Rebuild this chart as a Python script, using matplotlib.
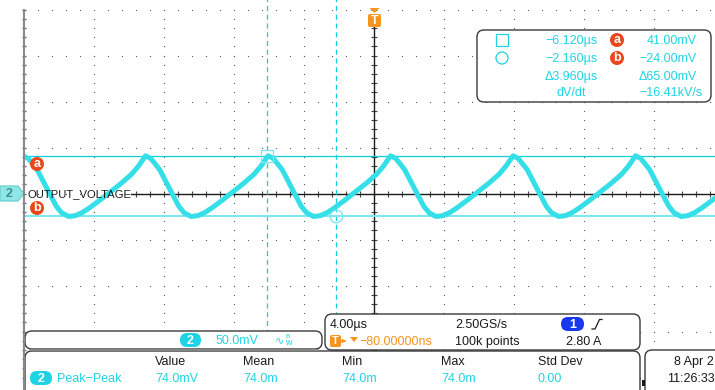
import numpy as np
import matplotlib.pyplot as plt
from matplotlib.patches import FancyBboxPatch, Rectangle, Circle, Polygon

W, H = 715, 390
plt.rcParams['font.family'] = ['Liberation Sans', 'DejaVu Sans']

# waveform: time (us) and channel 2 voltage (mV)
t_us = [-20.05, -19.75, -19.25, -18.65, -18.15, -17.85, -17.45, -17.05, -16.65, -16.25,
        -15.65, -15.05, -14.45, -13.85, -13.45, -13.20, -13.05,
        -12.75, -12.25, -11.65, -11.15, -10.85, -10.45, -10.05, -9.65, -9.25,
        -8.65, -8.05, -7.45, -6.85, -6.45, -6.20, -6.05,
        -5.75, -5.25, -4.65, -4.15, -3.85, -3.45, -3.05, -2.65, -2.25,
        -1.65, -1.05, -0.45, 0.15, 0.55, 0.80, 0.95,
        1.25, 1.75, 2.35, 2.85, 3.15, 3.55, 3.95, 4.35, 4.75,
        5.35, 5.95, 6.55, 7.15, 7.55, 7.80, 7.95,
        8.25, 8.75, 9.35, 9.85, 10.15, 10.55, 10.95, 11.35, 11.75,
        12.35, 12.95, 13.55, 14.15, 14.55, 14.80, 14.95,
        15.25, 15.75, 16.35, 16.85, 17.15, 17.55, 17.95, 18.35, 18.75,
        19.35, 19.95, 20.55]
v_mv = [41, 38, 26, 4, -14, -21, -25, -24, -20.5, -15.5,
        -7, 2, 11, 21, 30, 37, 41,
        38, 26, 4, -14, -21, -25, -24, -20.5, -15.5,
        -7, 2, 11, 21, 30, 37, 41,
        38, 26, 4, -14, -21, -25, -24, -20.5, -15.5,
        -7, 2, 11, 21, 30, 37, 41,
        38, 26, 4, -14, -21, -25, -24, -20.5, -15.5,
        -7, 2, 11, 21, 30, 37, 41,
        38, 26, 4, -14, -21, -25, -24, -20.5, -15.5,
        -7, 2, 11, 21, 30, 37, 41,
        38, 26, 4, -14, -21, -25, -24, -20.5, -15.5,
        -7, 2, 11]

cursor_t = [-6.120, -2.160]
cursor_v = [41.00, -24.00]

readout_time = ["\u22126.120\u00b5s", "\u22122.160\u00b5s", "\u03943.960\u00b5s"]
readout_volt = ["41.00mV", "\u221224.00mV", "\u039465.00mV"]
readout_slope = ["dV/dt", "\u221216.41kV/s"]

meas_header = ["Value", "Mean", "Min", "Max", "Std Dev"]
meas_values = ["74.0mV", "74.0m", "74.0m", "74.0m", "0.00"]
meas_x = [155, 243, 342, 441, 538]

CYAN = '#1fd3e4'
TRACE = '#34dfe8'
LIGHT = '#80e6ee'
ORANGE = '#f7941d'
RED = '#e8481c'
INK = '#1a1a1a'

fig = plt.figure(figsize=(W / 100, H / 100), dpi=100)
fig.patch.set_facecolor('white')

# scope screen: 10 x 8 divisions, 4 us/div, 50 mV/div
scope = fig.add_axes([24 / W, (H - 377.5) / H, 700 / W, 368 / H])
scope.set_xlim(-20, 20)
scope.set_ylim(-200, 200)
scope.axis('off')

major_t = np.arange(-20, 20.1, 4)
minor_t = np.arange(-20, 20.1, 0.8)
major_v = np.arange(-200, 200.1, 50)
minor_v = np.arange(-200, 200.1, 10)
for t in major_t:
    scope.plot(np.full_like(minor_v, t), minor_v, ls='none', marker='s', ms=0.8,
               color='#5a5a5a', mew=0)
for v in major_v:
    scope.plot(minor_t, np.full_like(minor_t, v), ls='none', marker='s', ms=0.8,
               color='#5a5a5a', mew=0)
scope.plot(np.full_like(minor_v, -20), minor_v, ls='none', marker='_', ms=3,
           color='#666', mew=1, clip_on=False)

# center ticks
scope.plot(np.zeros_like(minor_v), minor_v, ls='none', marker='_', ms=4.5,
           color='#444', mew=0.8)
scope.plot(minor_t[minor_t > -13.9], np.zeros_like(minor_t[minor_t > -13.9]),
           ls='none', marker='|', ms=4, color='#444', mew=0.8)

# trigger position line and channel baseline
scope.plot([0, 0], [-200, 181], color=INK, lw=1.0)
scope.plot([-13.9, 20], [0, 0], color=INK, lw=1.0)

# cursors
for t in cursor_t:
    scope.plot([t, t], [-200, 211], color='#12cfe0', lw=0.9, ls=(0, (4, 3)),
               clip_on=False)
scope.axhline(cursor_v[0], color='#12cfe0', lw=0.9)
scope.axhline(cursor_v[1], color=LIGHT, lw=1.5)

scope.plot(t_us, v_mv, color=TRACE, lw=3.6, solid_joinstyle='round',
           solid_capstyle='round')

scope.plot(cursor_t[0], cursor_v[0], marker='s', ms=8.5, mfc='none', mec=LIGHT,
           mew=1.0)
scope.plot(cursor_t[1], cursor_v[1], marker='o', ms=9, mfc='none', mec=LIGHT,
           mew=1.0)

# overlay in pixel coordinates for labels and panels
ov = fig.add_axes([0, 0, 1, 1])
ov.set_xlim(0, W)
ov.set_ylim(H, 0)
ov.axis('off')
ov.patch.set_alpha(0)

ov.plot([24, 24], [9.5, H], color='#8a8a8a', lw=1.5)

# channel marker and label
ov.add_patch(Polygon([(0, 186), (18, 186), (24, 193.5), (18, 201), (0, 201)],
                     closed=True, fc='#90e6e6', ec='#60cccc', lw=0.8))
ov.text(9, 194, "2", color='#3b8f8f', fontsize=9, fontweight='bold',
        ha='center', va='center')
ov.text(27, 194, "OUTPUT_VOLTAGE", color=INK, fontsize=8.1, ha='left', va='center')

# cursor badges
for yy, lab in [(164, "a"), (208, "b")]:
    ov.add_patch(Circle((37, yy), 7, fc=RED, ec='none'))
    ov.text(37, yy, lab, color='white', fontsize=9, fontweight='bold',
            ha='center', va='center')

# trigger marker
ov.add_patch(Polygon([(369.5, 8), (379.5, 8), (374.5, 13)], closed=True, fc=ORANGE,
                     ec='none'))
ov.add_patch(FancyBboxPatch((368, 14), 13, 13, boxstyle='round,pad=0,rounding_size=2',
                            fc=ORANGE, ec='none'))
ov.text(374.5, 20.8, "T", color='white', fontsize=9, fontweight='bold',
        ha='center', va='center')


def panel(x0, y0, x1, y1):
    ov.add_patch(FancyBboxPatch((x0, y0), x1 - x0, y1 - y0,
                                boxstyle='round,pad=0,rounding_size=7',
                                fc='white', ec='#3a3a3a', lw=1.0))


# cursor readout
panel(477, 30, 711, 102)
ov.add_patch(Rectangle((496, 34), 12, 12, fc='none', ec=CYAN, lw=0.9))
ov.add_patch(Circle((502, 58), 6, fc='none', ec=CYAN, lw=0.9))
for i, s in enumerate(readout_time):
    ov.text(598, 41 + 18 * i, s, color=CYAN, fontsize=9, ha='right', va='center')
for i, (yy, lab) in enumerate([(40, "a"), (58, "b")]):
    ov.add_patch(Circle((617, yy), 7, fc=RED, ec='none'))
    ov.text(617, yy, lab, color='white', fontsize=9, fontweight='bold',
            ha='center', va='center')
for i, s in enumerate(readout_volt):
    ov.text(697, 41 + 18 * i, s, color=CYAN, fontsize=9, ha='right', va='center')
ov.text(571, 93, readout_slope[0], color=CYAN, fontsize=9, ha='center', va='center')
ov.text(703, 93, readout_slope[1], color=CYAN, fontsize=9, ha='right', va='center')

# channel scale panel
panel(25, 331, 322, 349)
ov.plot([30, 318], [349.5, 349.5], color='#888', lw=1.2)
ov.add_patch(FancyBboxPatch((180, 333), 21, 14, boxstyle='round,pad=0,rounding_size=7',
                            fc=CYAN, ec='none'))
ov.text(190.5, 340.5, "2", color='white', fontsize=9, fontweight='bold',
        ha='center', va='center')
ov.text(216, 340.5, "50.0mV", color=CYAN, fontsize=9, ha='left', va='center')
ov.text(275, 340.5, "\u223f", color=CYAN, fontsize=8, ha='left', va='center',
        family=['DejaVu Sans'])
ov.text(285, 337, "B", color=CYAN, fontsize=4.5, ha='left', va='center')
ov.text(285.5, 342.5, "w", color=CYAN, fontsize=6.5, ha='left', va='center')

# timebase / trigger panel
panel(325, 314, 640, 350)
ov.text(330, 325, "4.00\u00b5s", color=INK, fontsize=9, ha='left', va='center')
ov.text(455, 325, "2.50GS/s", color=INK, fontsize=9, ha='left', va='center')
ov.add_patch(FancyBboxPatch((561, 317), 23, 14, boxstyle='round,pad=0,rounding_size=7',
                            fc='#1838ee', ec='none'))
ov.text(572.5, 324.5, "1", color='white', fontsize=9, fontweight='bold',
        ha='center', va='center')
ov.plot([592, 595, 599.5, 602], [329, 329, 319.5, 319.5], color=INK, lw=0.9)
ov.add_patch(FancyBboxPatch((330, 335), 11, 12, boxstyle='round,pad=0,rounding_size=2',
                            fc=ORANGE, ec='none'))
ov.text(335.5, 341.5, "T", color='white', fontsize=8, fontweight='bold',
        ha='center', va='center')
ov.annotate("", xy=(349, 341), xytext=(342, 341),
            arrowprops=dict(arrowstyle='-|>', color=ORANGE, lw=0.9,
                            mutation_scale=5))
ov.add_patch(Polygon([(350, 337), (358, 337), (354, 342)], closed=True, fc=ORANGE,
                     ec='none'))
ov.text(359, 342, "\u221280.00000ns", color=ORANGE, fontsize=9, ha='left', va='center')
ov.text(455, 342, "100k points", color=INK, fontsize=9, ha='left', va='center')
ov.text(566, 342, "2.80 A", color=INK, fontsize=9, ha='left', va='center')

# measurement panel
panel(25, 351, 640, 398)
for x, s in zip(meas_x, meas_header):
    ov.text(x, 362, s, color=INK, fontsize=9, ha='left', va='center')
ov.add_patch(FancyBboxPatch((30, 371), 22, 14, boxstyle='round,pad=0,rounding_size=7',
                            fc=CYAN, ec='none'))
ov.text(41, 378.5, "2", color='white', fontsize=9, fontweight='bold',
        ha='center', va='center')
ov.text(57, 378.5, "Peak\u2212Peak", color=CYAN, fontsize=9, ha='left', va='center')
for x, s in zip(meas_x, meas_values):
    ov.text(x, 378.5, s, color=CYAN, fontsize=9, ha='left', va='center')

# date panel
panel(645, 350, 740, 398)
ov.add_patch(Rectangle((641.5, 380), 3, 6, fc=INK, ec='none'))
ov.text(674, 362, "8 Apr 2", color=INK, fontsize=9, ha='left', va='center')
ov.text(667, 378.5, "11:26:33", color=INK, fontsize=9, ha='left', va='center')

fig.savefig('out.png', dpi=100)
